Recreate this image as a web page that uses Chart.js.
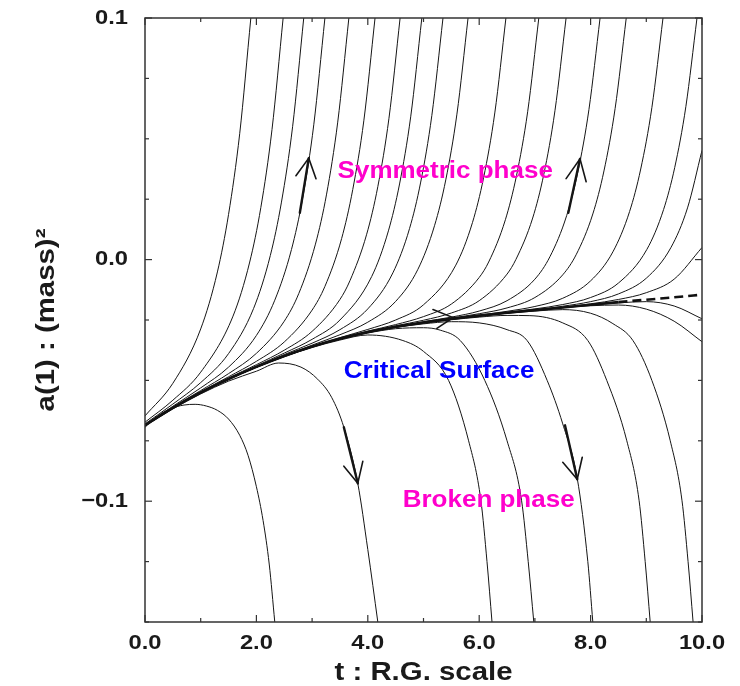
<!DOCTYPE html>
<html><head><meta charset="utf-8">
<script src="https://cdn.jsdelivr.net/npm/chart.js@4/dist/chart.umd.min.js"></script>
<style>html,body{margin:0;padding:0;background:#fff;}canvas{display:block;}</style>
</head><body>
<canvas id="c" width="740" height="686"></canvas>
<script>
// ---------- tick labels ----------
const xTickValues = [0, 2, 4, 6, 8, 10];
const xTickLabels = ['0.0', '2.0', '4.0', '6.0', '8.0', '10.0'];
const yTickValues = [-0.1, 0.0, 0.1];
const yTickLabels = ['\u22120.1', '0.0', '0.1'];
const xTitle = 't : R.G. scale';
const yTitle = 'a(1) : (mass)\u00B2';

// ---------- critical surface ----------
const critical = [[0,-0.0686],[0.5,-0.0614],[1,-0.055],[1.5,-0.0494],[2,-0.0444],[2.5,-0.0399],[3,-0.036],[3.5,-0.0327],[4,-0.03],[4.5,-0.0278],[5,-0.026],[5.5,-0.0245],[6,-0.0232],[6.5,-0.022],[7,-0.0209],[7.5,-0.0198],[8,-0.0187],[8.5,-0.0176]];
const criticalDashed = [[8.5,-0.0176],[9,-0.0166],[9.5,-0.0156],[10,-0.0145]];

// ---------- symmetric phase trajectories ----------
const sym1 = [[0,-0.0647],[0.5,-0.0512],[1.0,-0.0287],[1.3,-0.0051],[1.5,0.0187],[1.7,0.0521],[1.9,0.1]];
const sym2 = [[0,-0.0673],[0.5,-0.0582],[1.0,-0.0466],[1.58,-0.0234],[1.88,-0.001],[2.08,0.0216],[2.28,0.0538],[2.48,0.1]];
const sym3 = [[0,-0.068],[0.5,-0.0598],[1.0,-0.0509],[1.5,-0.0389],[1.95,-0.0202],[2.25,0.0017],[2.45,0.0238],[2.65,0.055],[2.85,0.1]];
const sym4 = [[0,-0.0685],[0.5,-0.0607],[1.0,-0.0531],[1.5,-0.0445],[2.0,-0.0314],[2.33,-0.0168],[2.63,0.0042],[2.83,0.0254],[3.03,0.0558],[3.23,0.1]];
const sym5 = [[0,-0.0686],[0.5,-0.0611],[1.0,-0.0542],[1.5,-0.0472],[2.0,-0.0388],[2.5,-0.0255],[2.76,-0.0141],[3.06,0.0064],[3.26,0.0271],[3.46,0.0569],[3.66,0.1]];
const sym6 = [[0,-0.0686],[0.5,-0.0614],[1.0,-0.0547],[1.5,-0.0485],[2.0,-0.0421],[2.5,-0.0341],[3.0,-0.0209],[3.23,-0.0111],[3.53,0.0087],[3.73,0.029],[3.93,0.0577],[4.13,0.1]];
const sym7 = [[0,-0.0686],[0.5,-0.0614],[1.0,-0.055],[1.5,-0.049],[2.0,-0.0435],[2.5,-0.0375],[3.0,-0.0297],[3.5,-0.0165],[3.68,-0.0087],[3.98,0.0105],[4.18,0.0302],[4.38,0.0585],[4.58,0.1]];
const sym8 = [[0,-0.0686],[0.5,-0.0614],[1.0,-0.055],[1.5,-0.0494],[2.0,-0.044],[2.5,-0.0387],[3.0,-0.033],[3.5,-0.025],[4.07,-0.007],[4.37,0.0119],[4.57,0.0313],[4.77,0.0591],[4.97,0.1]];
const sym9 = [[0,-0.0686],[0.5,-0.0614],[1.0,-0.055],[1.5,-0.0494],[2.0,-0.0444],[2.5,-0.0393],[3.0,-0.0346],[3.5,-0.029],[4.0,-0.0204],[4.45,-0.0055],[4.75,0.0129],[4.95,0.0321],[5.15,0.0597],[5.35,0.1]];
const sym10 = [[0,-0.0686],[0.5,-0.0614],[1.0,-0.055],[1.5,-0.0494],[2.0,-0.0444],[2.5,-0.0399],[3.0,-0.0354],[3.5,-0.0311],[4.0,-0.0259],[4.5,-0.0173],[4.9,-0.004],[5.2,0.0142],[5.4,0.033],[5.6,0.0602],[5.8,0.1]];
const sym11 = [[0,-0.0686],[0.5,-0.0614],[1.0,-0.055],[1.5,-0.0494],[2.0,-0.0444],[2.5,-0.0399],[3.0,-0.036],[3.5,-0.0323],[4.0,-0.0289],[4.5,-0.025],[5.0,-0.0187],[5.58,-0.0023],[5.88,0.0154],[6.08,0.034],[6.28,0.0607],[6.48,0.1]];
const sym12 = [[0,-0.0686],[0.5,-0.0614],[1.0,-0.055],[1.5,-0.0494],[2.0,-0.0444],[2.5,-0.0399],[3.0,-0.036],[3.5,-0.0327],[4.0,-0.0296],[4.5,-0.0269],[5.0,-0.0236],[5.5,-0.0184],[6.0,-0.0074],[6.17,-0.001],[6.47,0.0165],[6.67,0.0348],[6.87,0.0612],[7.07,0.1]];
const sym13 = [[0,-0.0686],[0.5,-0.0614],[1.0,-0.055],[1.5,-0.0494],[2.0,-0.0444],[2.5,-0.0399],[3.0,-0.036],[3.5,-0.0327],[4.0,-0.03],[4.5,-0.0274],[5.0,-0.0251],[5.5,-0.0221],[6.0,-0.017],[6.5,-0.006],[6.66,0.0001],[6.96,0.0172],[7.16,0.0353],[7.36,0.0616],[7.56,0.1]];
const sym14 = [[0,-0.0686],[0.5,-0.0614],[1.0,-0.055],[1.5,-0.0494],[2.0,-0.0444],[2.5,-0.0399],[3.0,-0.036],[3.5,-0.0327],[4.0,-0.03],[4.5,-0.0278],[5.0,-0.0257],[5.5,-0.0238],[6.0,-0.0213],[6.5,-0.017],[7.0,-0.0081],[7.27,0.0012],[7.57,0.0182],[7.77,0.0361],[7.97,0.0621],[8.17,0.1]];
const sym15 = [[0,-0.0686],[0.5,-0.0614],[1.0,-0.055],[1.5,-0.0494],[2.0,-0.0444],[2.5,-0.0399],[3.0,-0.036],[3.5,-0.0327],[4.0,-0.03],[4.5,-0.0278],[5.0,-0.026],[5.5,-0.0242],[6.0,-0.0224],[6.5,-0.02],[7.0,-0.0157],[7.5,-0.0063],[7.74,0.002],[8.04,0.0189],[8.24,0.0367],[8.44,0.0625],[8.64,0.1]];
const sym16 = [[0,-0.0686],[0.5,-0.0614],[1.0,-0.055],[1.5,-0.0494],[2.0,-0.0444],[2.5,-0.0399],[3.0,-0.036],[3.5,-0.0327],[4.0,-0.03],[4.5,-0.0278],[5.0,-0.026],[5.5,-0.0245],[6.0,-0.023],[6.5,-0.0214],[7.0,-0.0194],[7.5,-0.016],[8.0,-0.0088],[8.4,0.0032],[8.7,0.0199],[8.9,0.0375],[9.1,0.0629],[9.3,0.1]];
const sym17 = [[0,-0.0686],[0.5,-0.0614],[1.0,-0.055],[1.5,-0.0494],[2.0,-0.0444],[2.5,-0.0399],[3.0,-0.036],[3.5,-0.0327],[4.0,-0.03],[4.5,-0.0278],[5.0,-0.026],[5.5,-0.0245],[6.0,-0.0232],[6.5,-0.0218],[7.0,-0.0204],[7.5,-0.0186],[8.0,-0.0157],[8.5,-0.0097],[9.01,0.0042],[9.31,0.0207],[9.51,0.0381],[9.71,0.0633],[9.91,0.1]];
const sym18 = [[0,-0.0686],[0.5,-0.0614],[1.0,-0.055],[1.5,-0.0494],[2.0,-0.0444],[2.5,-0.0399],[3.0,-0.036],[3.5,-0.0327],[4.0,-0.03],[4.5,-0.0278],[5.0,-0.026],[5.5,-0.0245],[6.0,-0.0232],[6.5,-0.022],[7.0,-0.0209],[7.5,-0.0193],[8.0,-0.0174],[8.5,-0.0142],[9.0,-0.0077],[9.44,0.0049],[9.74,0.0214],[10,0.0452]];
const sym19 = [[0,-0.0686],[0.5,-0.0614],[1.0,-0.055],[1.5,-0.0494],[2.0,-0.0444],[2.5,-0.0399],[3.0,-0.036],[3.5,-0.0327],[4.0,-0.03],[4.5,-0.0278],[5.0,-0.026],[5.5,-0.0245],[6.0,-0.0232],[6.5,-0.022],[7.0,-0.0209],[7.5,-0.0198],[8.0,-0.0183],[8.5,-0.0165],[9.0,-0.0137],[9.5,-0.0081],[10,0.005]];

// ---------- broken phase trajectories ----------
const brk1 = [[0,-0.0694],[0.2,-0.0652],[0.45,-0.0618],[0.7,-0.0602],[0.9,-0.0599],[1.1,-0.0606],[1.3,-0.0624],[1.5,-0.066],[1.7,-0.0727],[1.85,-0.081],[2.0,-0.094],[2.12,-0.108],[2.23,-0.126],[2.33,-0.15]];
const brk2 = [[0,-0.0689],[0.5,-0.0618],[1.0,-0.0556],[1.5,-0.0503],[2.0,-0.0462],[2.4,-0.0428],[2.8,-0.0445],[3.1,-0.0495],[3.35,-0.057],[3.57,-0.0694],[3.82,-0.0926],[4.0,-0.12],[4.18,-0.15]];
const brk3 = [[0,-0.0688],[0.5,-0.0616],[1.0,-0.0552],[1.5,-0.0496],[2.0,-0.0446],[2.5,-0.0402],[3.0,-0.0364],[3.5,-0.0333],[4.0,-0.0312],[4.63,-0.0335],[5.0,-0.038],[5.45,-0.05],[5.81,-0.075],[6.03,-0.0996],[6.14,-0.125],[6.23,-0.15]];
const brk4 = [[0,-0.0687],[0.5,-0.0615],[1.0,-0.0551],[1.5,-0.0495],[2.0,-0.0445],[2.5,-0.0401],[3.0,-0.0362],[3.5,-0.033],[4.0,-0.0304],[4.5,-0.0286],[5.0,-0.0282],[5.3,-0.0292],[5.66,-0.0335],[6.1,-0.05],[6.5,-0.075],[6.76,-0.0996],[6.88,-0.125],[6.98,-0.15]];
const brk5 = [[0,-0.0687],[0.5,-0.0615],[1.0,-0.0551],[1.5,-0.0495],[2.0,-0.0445],[2.5,-0.04],[3.0,-0.0361],[3.5,-0.0329],[4.0,-0.0302],[4.5,-0.0281],[5.0,-0.0266],[5.5,-0.0257],[6.0,-0.0262],[6.5,-0.029],[6.86,-0.0335],[7.22,-0.05],[7.5,-0.068],[7.76,-0.0905],[7.95,-0.125],[8.04,-0.15]];
const brk6 = [[0,-0.0687],[0.5,-0.0615],[1.0,-0.0551],[1.5,-0.0495],[2.0,-0.0445],[2.5,-0.04],[3.0,-0.0361],[3.5,-0.0328],[4.0,-0.0301],[4.5,-0.028],[5.0,-0.0263],[5.5,-0.0249],[6.0,-0.0238],[6.5,-0.0231],[6.91,-0.0232],[7.5,-0.0262],[7.95,-0.0335],[8.29,-0.05],[8.65,-0.075],[8.87,-0.0996],[8.98,-0.125],[9.07,-0.15]];
const brk7 = [[0,-0.0687],[0.5,-0.0615],[1.0,-0.0551],[1.5,-0.0495],[2.0,-0.0445],[2.5,-0.04],[3.0,-0.0361],[3.5,-0.0328],[4.0,-0.0301],[4.5,-0.0279],[5.0,-0.0262],[5.5,-0.0247],[6.0,-0.0234],[6.5,-0.0222],[7.0,-0.0213],[7.5,-0.0207],[8.0,-0.0222],[8.4,-0.0265],[8.76,-0.0335],[9.1,-0.05],[9.43,-0.075],[9.64,-0.0996],[9.75,-0.125],[9.84,-0.15]];
const brk8 = [[0,-0.0687],[0.5,-0.0615],[1.0,-0.0551],[1.5,-0.0495],[2.0,-0.0445],[2.5,-0.04],[3.0,-0.0361],[3.5,-0.0328],[4.0,-0.0301],[4.5,-0.0279],[5.0,-0.0261],[5.5,-0.0246],[6.0,-0.0233],[6.5,-0.0221],[7.0,-0.021],[7.5,-0.0199],[8.0,-0.0191],[8.5,-0.0188],[9.0,-0.0205],[9.5,-0.0255],[10,-0.034]];
const brk9 = [[0,-0.0687],[0.5,-0.0615],[1.0,-0.0551],[1.5,-0.0495],[2.0,-0.0445],[2.5,-0.04],[3.0,-0.0361],[3.5,-0.0328],[4.0,-0.0301],[4.5,-0.0279],[5.0,-0.0261],[5.5,-0.0246],[6.0,-0.0233],[6.5,-0.0221],[7.0,-0.021],[7.5,-0.0199],[8.0,-0.0188],[8.5,-0.0179],[9.0,-0.0174],[9.5,-0.0192],[10,-0.0245]];

// ---------- flow arrows ----------
const arrowShaft1 = [[2.78,0.0194],[2.94,0.042]];
const arrowShaft2 = [[7.6,0.0194],[7.81,0.0417]];
const arrowShaft3 = [[3.57,-0.0694],[3.82,-0.0926]];
const arrowShaft4 = [[7.54,-0.0686],[7.76,-0.0909]];
const arrowHead1 = [[2.71,0.0347],[2.94,0.042],[3.07,0.0335]];
const arrowHead2 = [[7.56,0.0335],[7.81,0.0417],[7.92,0.0322]];
const arrowHead3 = [[3.57,-0.0855],[3.82,-0.0926],[3.91,-0.0835]];
const arrowHead4 = [[7.5,-0.0839],[7.76,-0.0909],[7.85,-0.0818]];
const arrowHead5 = [[5.17,-0.0207],[5.53,-0.024],[5.24,-0.0285]];

const symmetricSet = [sym1,sym2,sym3,sym4,sym5,sym6,sym7,sym8,sym9,sym10,sym11,sym12,sym13,sym14,sym15,sym16,sym17,sym18,sym19];
const brokenSet = [brk1,brk2,brk3,brk4,brk5,brk6,brk7,brk8,brk9];

const FONT = "'Liberation Sans', Arial, Helvetica, sans-serif";
const TEXT_STRETCH = 1.13;
const toXY = pts => pts.map(p => ({x: p[0], y: p[1]}));
const curve = pts => ({data: toXY(pts), borderColor: '#151515', borderWidth: 1, pointRadius: 0, cubicInterpolationMode: 'monotone', fill: false, order: 2});
const straight = (pts, w) => ({data: toXY(pts), borderColor: '#151515', borderWidth: w, pointRadius: 0, tension: 0, fill: false, order: 0, borderCapStyle: 'round', borderJoinStyle: 'miter'});

const datasets = [];
datasets.push({data: toXY(critical), borderColor: '#111', borderWidth: 2.6, pointRadius: 0, cubicInterpolationMode: 'monotone', fill: false, order: 1});
datasets.push({data: toXY(criticalDashed), borderColor: '#111', borderWidth: 2.6, borderDash: [9, 5], pointRadius: 0, cubicInterpolationMode: 'monotone', fill: false, order: 1});
symmetricSet.forEach(s => datasets.push(curve(s)));
brokenSet.forEach(s => datasets.push(curve(s)));
[arrowShaft1, arrowShaft2, arrowShaft3, arrowShaft4].forEach(s => datasets.push(straight(s, 2.4)));
[arrowHead1, arrowHead2, arrowHead3, arrowHead4, arrowHead5].forEach(s => datasets.push(straight(s, 1.6)));

const labels = [
  {text: 'Symmetric phase', x: 5.39, y: 0.0339, color: '#ff00cc'},
  {text: 'Critical Surface', x: 5.28, y: -0.0488, color: '#0000ff'},
  {text: 'Broken phase', x: 6.17, y: -0.1025, color: '#ff00cc'}
];

// wide (horizontally stretched) glyphs, as in the original figure
const stretchPlugin = {
  id: 'stretch',
  beforeInit(chart) {
    const ctx = chart.ctx;
    const orig = ctx.fillText;
    ctx.fillText = function (t, x, y) {
      this.save();
      this.translate(x, y);
      this.scale(TEXT_STRETCH, 1);
      orig.call(this, t, 0, 0);
      this.restore();
    };
  }
};

const framePlugin = {
  id: 'frame',
  afterDatasetsDraw(chart) {
    const {ctx, chartArea: a, scales: {x, y}} = chart;
    ctx.save();
    labels.forEach(l => {
      ctx.save();
      ctx.font = 'bold 23px ' + FONT;
      ctx.fillStyle = l.color;
      ctx.textAlign = 'center';
      ctx.textBaseline = 'alphabetic';
      ctx.fillText(l.text, x.getPixelForValue(l.x), y.getPixelForValue(l.y));
      ctx.restore();
    });
    ctx.strokeStyle = '#333';
    ctx.lineWidth = 1.5;
    ctx.strokeRect(a.left, a.top, a.right - a.left, a.bottom - a.top);
    ctx.lineWidth = 1.2;
    const seg = (x1, y1, x2, y2) => { ctx.beginPath(); ctx.moveTo(x1, y1); ctx.lineTo(x2, y2); ctx.stroke(); };
    x.ticks.forEach(t => {
      const px = x.getPixelForValue(t.value);
      const major = xTickValues.some(v => Math.abs(v - t.value) < 1e-6);
      const L = major ? 7 : 4;
      seg(px, a.bottom, px, a.bottom - L);
      seg(px, a.top, px, a.top + L);
    });
    y.ticks.forEach(t => {
      const py = y.getPixelForValue(t.value);
      const major = yTickValues.some(v => Math.abs(v - t.value) < 1e-6);
      const L = major ? 7 : 4;
      seg(a.left, py, a.left + L, py);
      seg(a.right, py, a.right - L, py);
    });
    ctx.restore();
  }
};

new Chart(document.getElementById('c'), {
  type: 'line',
  data: {datasets},
  plugins: [stretchPlugin, framePlugin],
  options: {
    responsive: false, animation: false, devicePixelRatio: 1,
    layout: {padding: {top: 18, right: 38, left: 0, bottom: 0}},
    plugins: {legend: {display: false}, tooltip: {enabled: false}},
    scales: {
      x: {
        type: 'linear', min: 0, max: 10,
        afterFit(s) { s.height = 64; s.paddingLeft = 0; s.paddingRight = 0; },
        grid: {display: false, drawTicks: false}, border: {display: false},
        ticks: {stepSize: 1, autoSkip: false, maxRotation: 0, padding: 9, color: '#1a1a1a',
          font: {family: FONT, size: 21, weight: 'bold'},
          callback(v) { const i = xTickValues.findIndex(t => Math.abs(t - v) < 1e-6); return i >= 0 ? xTickLabels[i] : ''; }},
        title: {display: true, text: xTitle, color: '#1a1a1a', font: {family: FONT, size: 26, weight: 'bold', lineHeight: 1}, padding: {top: 0, bottom: 0}}
      },
      y: {
        type: 'linear', min: -0.15, max: 0.1,
        afterFit(s) { s.width = 145; s.paddingTop = 0; s.paddingBottom = 0; },
        grid: {display: false, drawTicks: false}, border: {display: false},
        ticks: {stepSize: 0.025, autoSkip: false, padding: 17, color: '#1a1a1a',
          font: {family: FONT, size: 21, weight: 'bold'},
          callback(v) { const i = yTickValues.findIndex(t => Math.abs(t - v) < 1e-6); return i >= 0 ? yTickLabels[i] : ''; }},
        title: {display: true, text: yTitle, color: '#1a1a1a', font: {family: FONT, size: 26, weight: 'bold', lineHeight: 1}, padding: {top: 34, bottom: 0}}
      }
    }
  }
});
</script>
</body></html>
